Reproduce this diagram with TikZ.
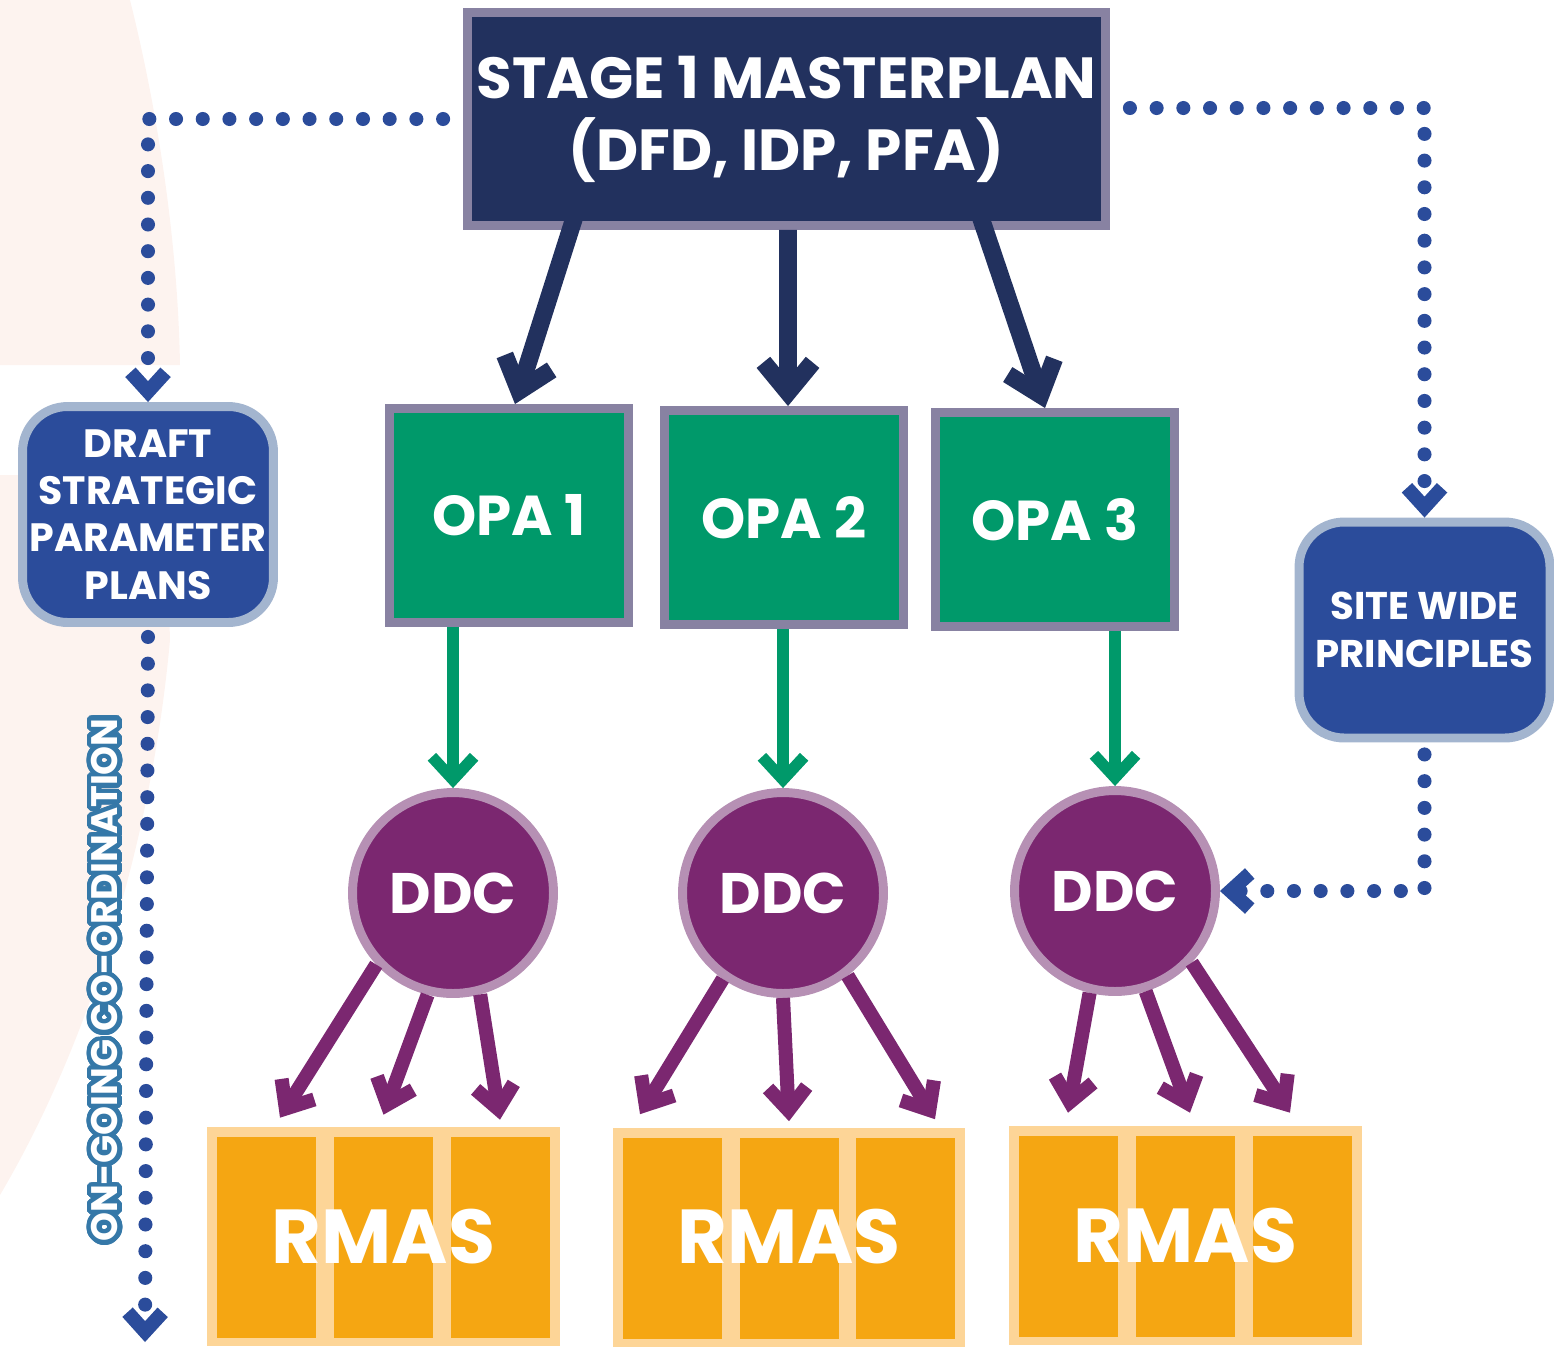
\documentclass[tikz,border=0pt]{standalone}
\usepackage{fontspec}
\setmainfont{Poppins}
\usepackage{contour}
\contourlength{2.6pt}
\contournumber{40}
\usetikzlibrary{positioning,arrows.meta}

\definecolor{navy}{HTML}{22315E}
\definecolor{framegrey}{HTML}{8882A2}
\definecolor{opagreen}{HTML}{00996A}
\definecolor{ddcpurple}{HTML}{7B2770}
\definecolor{ddcring}{HTML}{B690B4}
\definecolor{rmasorange}{HTML}{F5A612}
\definecolor{rmaslight}{HTML}{FDD597}
\definecolor{planblue}{HTML}{2B4C9B}
\definecolor{planring}{HTML}{A3B5CF}
\definecolor{ongoingblue}{HTML}{3578A8}
\definecolor{bgpink}{HTML}{FDF3EF}

\tikzset{
  masterbox/.style={draw=framegrey, fill=navy, line width=5.1pt, minimum width=12.76cm, minimum height=4.26cm,
    inner sep=0pt, text=white, align=center, font=\fontsize{33}{41}\selectfont\bfseries},
  opabox/.style={draw=framegrey, fill=opagreen, line width=5.1pt, minimum width=4.78cm, minimum height=4.28cm,
    inner sep=0pt, text=white, font=\fontsize{32}{32}\selectfont\bfseries},
  ddcnode/.style={circle, draw=ddcring, fill=ddcpurple, line width=5.1pt, minimum size=4.02cm,
    inner sep=0pt, text=white, font=\fontsize{32.5}{32}\selectfont\bfseries},
  rmasbox/.style={fill=rmaslight, minimum width=7.06cm, minimum height=4.38cm, inner sep=0pt,
    text=white, font=\fontsize{43.5}{43}\selectfont\bfseries,
    path picture={
      \foreach \k [evaluate=\k as \l using 0.2+2.34*\k, evaluate=\k as \r using 2.18+2.34*\k] in {0,1,2}
        \fill[rmasorange] ([shift={(\l cm,-0.2cm)}]path picture bounding box.north west)
          rectangle ([shift={(\r cm,0.16cm)}]path picture bounding box.south west);
    }},
  planbox/.style={draw=planring, fill=planblue, line width=5.1pt, rounded corners=0.9cm,
    minimum width=5.02cm, minimum height=4.32cm, inner sep=0pt, text=white, align=center},
  masterarrow/.style={draw=navy, line width=10pt, -{Straight Barb[length=17pt, width=28pt, sharp]}},
  greenarrow/.style={draw=opagreen, line width=6.5pt, -{Straight Barb[length=13pt, width=24pt, sharp]}},
  ddcarrow/.style={draw=ddcpurple, line width=8pt, -{Straight Barb[length=13pt, width=22pt, sharp]}},
  dotline/.style={draw=planblue, line width=8pt, line cap=round, dash pattern=on 0pt off 15.2pt,
    -{Straight Barb[length=11pt, width=20pt, sharp]}}
}

\begin{document}
\begin{tikzpicture}[x=0.02cm, y=-0.02cm]
  \useasboundingbox (0,0) rectangle (1554,1346);

  % sfondo rosa a sinistra
  \fill[bgpink] (0,0) -- (130,0) .. controls (160,120) and (178,250) .. (180,365) -- (0,365) -- cycle;
  \fill[bgpink] (0,475) -- (165,475) -- (170,640) .. controls (150,860) and (80,1060) .. (0,1195) -- cycle;

  % nodi principali
  \node[masterbox] (master) at (786.5,119) {STAGE 1 MASTERPLAN\\(DFD, IDP, PFA)};

  \node[opabox] (opa1) at (509,515.5) {OPA 1};
  \node[opabox] (opa2) at (784,517.5) {OPA 2};
  \node[opabox] (opa3) at (1055,519.5) {OPA 3};

  \node[ddcnode] (ddc1) at (453,893) {DDC};
  \node[ddcnode] (ddc2) at (783,893) {DDC};
  \node[ddcnode] (ddc3) at (1115,891) {DDC};

  \node[rmasbox] (rmas1) at (383.5,1236.5) {RMAS};
  \node[rmasbox] (rmas2) at (789,1237) {RMAS};
  \node[rmasbox] (rmas3) at (1185.5,1235.5) {RMAS};

  \node[planbox, font=\fontsize{22.5}{27}\selectfont\bfseries] (draft) at (148,514.5) {DRAFT\\STRATEGIC\\PARAMETER\\PLANS};
  \node[planbox, font=\fontsize{22}{27}\selectfont\bfseries] (site) at (1424.5,630) {SITE WIDE\\PRINCIPLES};

  % linee tratteggiate
  \coordinate (ongoingend) at (145,1342);
  \draw[dotline] ([xshift=-0.4cm]master.west) -| (draft.north);
  \draw[dotline] ([yshift=-0.2cm]draft.south) -- (ongoingend);
  \draw[dotline] ([shift={(0.4cm,0.22cm)}]master.east) -| (site.north);
  \draw[dotline] ([yshift=-0.24cm]site.south) |- (ddc3.east);

  \node[rotate=90, text=white, font=\fontsize{21}{21}\selectfont\bfseries] (ongoing) at (107,980)
    {\contour{ongoingblue}{ON-GOING CO-ORDINATION}};

  % frecce dal masterplan
  \draw[masterarrow] ([shift={(-4.1cm,0.7cm)}]master.south) -- ([xshift=0.12cm]opa1.north);
  \draw[masterarrow] ([xshift=0.03cm]master.south) -- ([xshift=0.08cm]opa2.north);
  \draw[masterarrow] ([shift={(3.8cm,0.5cm)}]master.south) -- ([xshift=-0.2cm]opa3.north);

  % frecce verdi
  \draw[greenarrow] (ddc1.north |- opa1.south) -- (ddc1.north);
  \draw[greenarrow] (ddc2.north |- opa2.south) -- (ddc2.north);
  \draw[greenarrow] (ddc3.north |- opa3.south) -- (ddc3.north);

  % frecce verso le RMAS
  \draw[ddcarrow] (ddc1.223) -- ([shift={(-2.07cm,0.18cm)}]rmas1.north);
  \draw[ddcarrow] (ddc1.256) -- ([shift={(0cm,0.24cm)}]rmas1.north);
  \draw[ddcarrow] (ddc1.285) -- ([shift={(2.33cm,0.14cm)}]rmas1.north);
  \draw[ddcarrow] (ddc2.235) -- ([shift={(-2.98cm,0.26cm)}]rmas2.north);
  \draw[ddcarrow] (ddc2.270) -- ([shift={(0cm,0.12cm)}]rmas2.north);
  \draw[ddcarrow] (ddc2.308) -- ([shift={(2.92cm,0.16cm)}]rmas2.north);
  \draw[ddcarrow] (ddc3.256) -- ([shift={(-2.35cm,0.26cm)}]rmas3.north);
  \draw[ddcarrow] (ddc3.287) -- ([shift={(0.09cm,0.26cm)}]rmas3.north);
  \draw[ddcarrow] (ddc3.317) -- ([shift={(2.09cm,0.26cm)}]rmas3.north);
\end{tikzpicture}
\end{document}
